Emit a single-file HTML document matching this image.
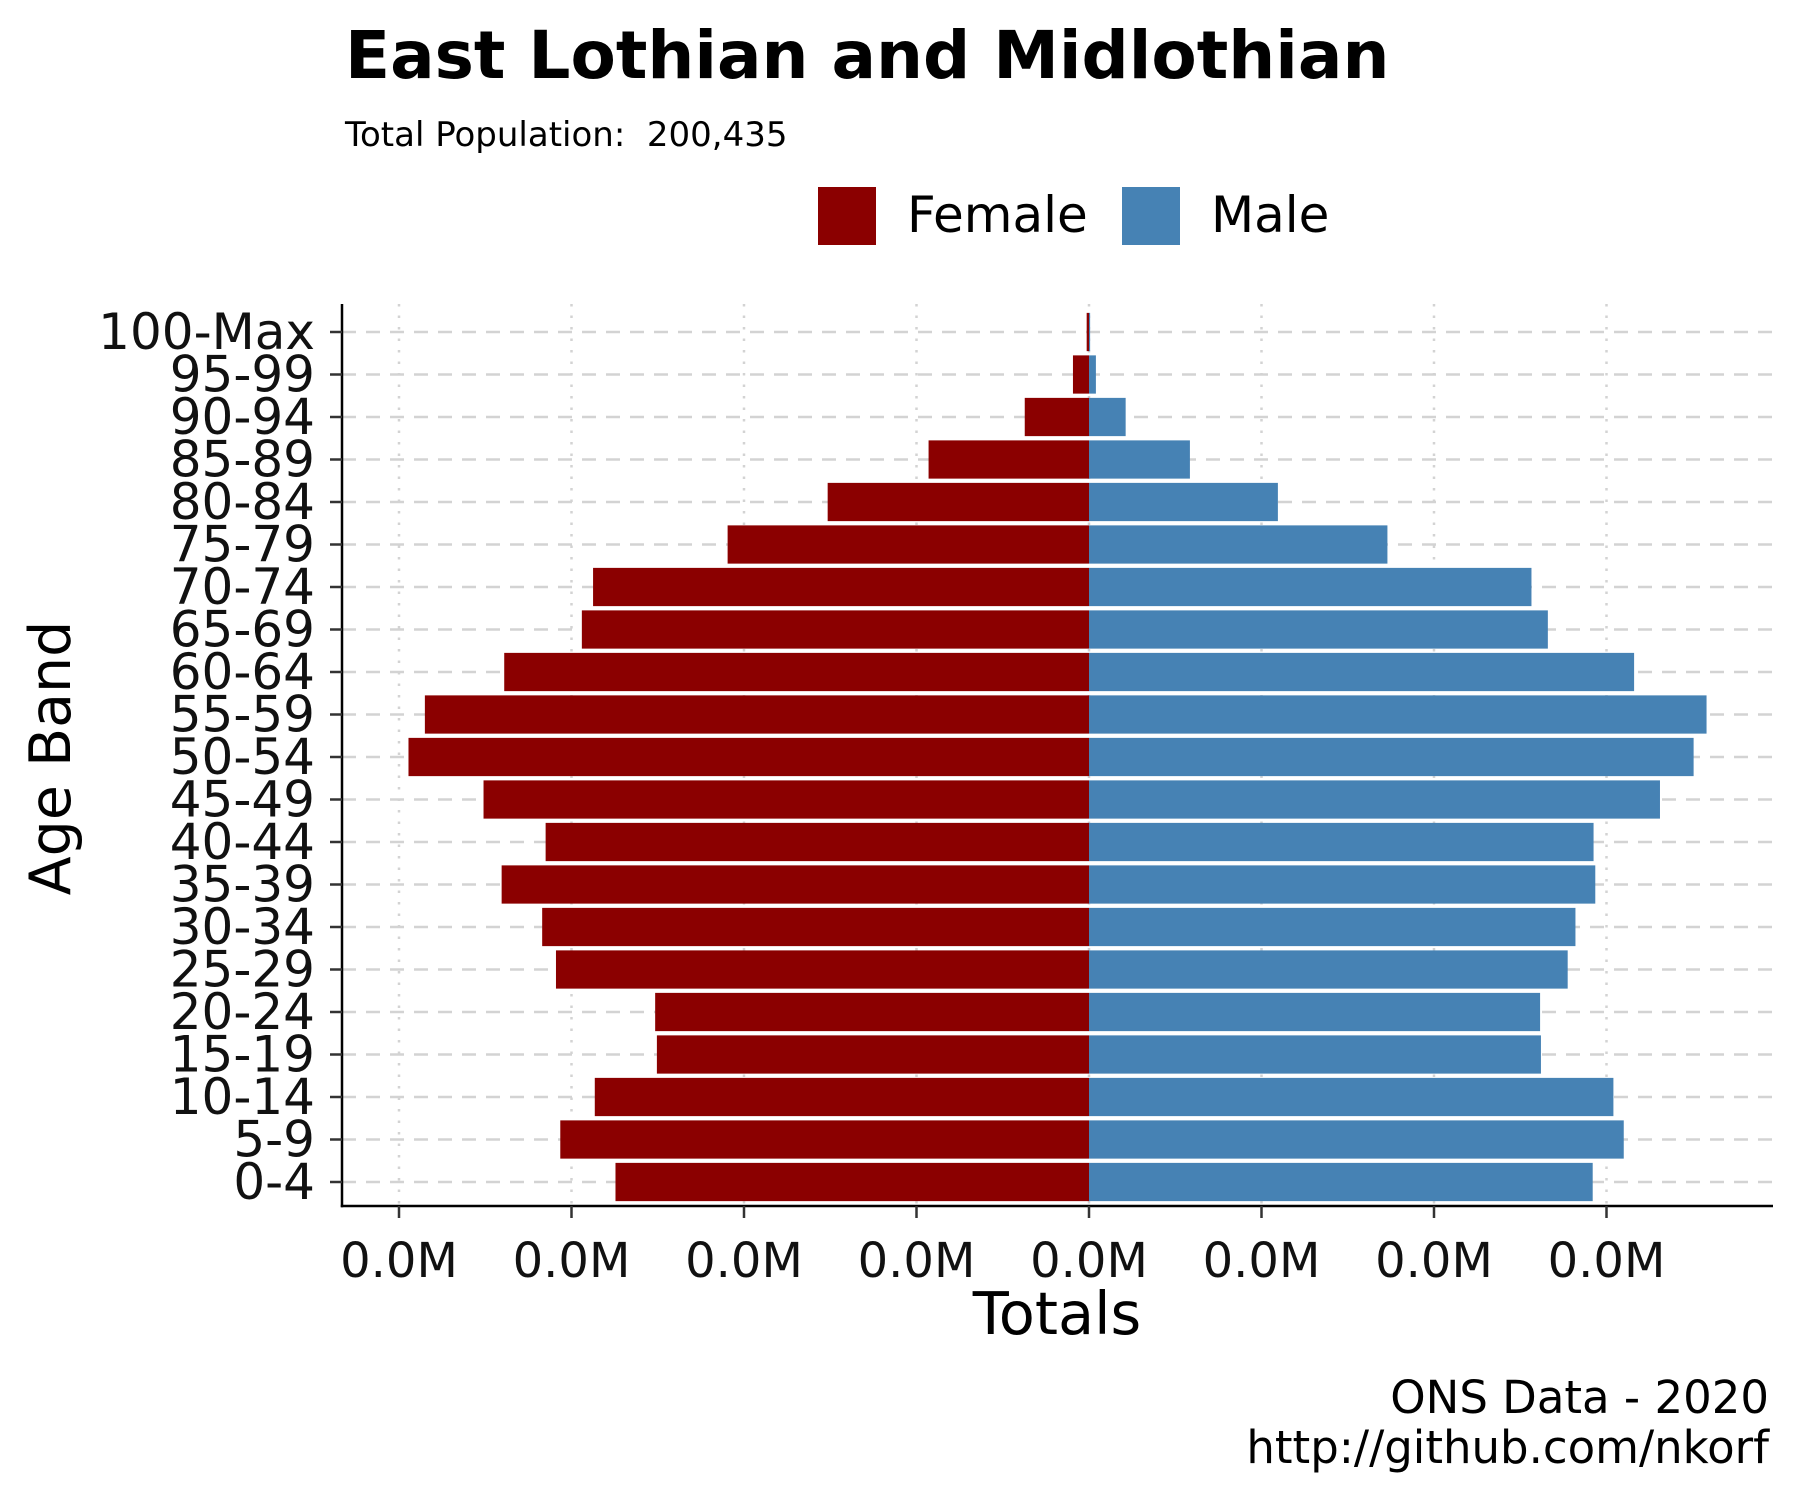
<!DOCTYPE html>
<html><head><meta charset="utf-8"><style>
html,body{margin:0;padding:0;background:#fff;}
svg text{font-family:"DejaVu Sans","Liberation Sans",sans-serif;white-space:pre;}
</style></head><body>
<svg id="chart" width="1800" height="1500" viewBox="0 0 1800 1500" xmlns="http://www.w3.org/2000/svg">
<rect x="0" y="0" width="1800" height="1500" fill="#fff"/>
<text x="345" y="78" font-size="66" font-weight="bold">East Lothian and Midlothian</text>
<text x="345" y="146" font-size="34" xml:space="preserve">Total Population:  200,435</text>
<g>
<rect x="818" y="187" width="58" height="58" fill="#8b0000"/>
<text x="907" y="232" font-size="50">Female</text>
<rect x="1122" y="187" width="58" height="58" fill="#4682b4"/>
<text x="1211" y="232" font-size="50">Male</text>
</g>
<g id="grid"></g>
<g id="bars"></g>
<g id="axes"></g>
<text x="1057" y="1334" font-size="59" text-anchor="middle">Totals</text>
<text x="0" y="0" font-size="57" text-anchor="middle" transform="translate(70,758) rotate(-90)">Age Band</text>
<text x="1769" y="1413" font-size="45" text-anchor="end">ONS Data - 2020</text>
<text x="1769" y="1463" font-size="45" text-anchor="end">http://github.com/nkorf</text>
</svg>
<script>
const categories = ["0-4","5-9","10-14","15-19","20-24","25-29","30-34","35-39","40-44","45-49","50-54","55-59","60-64","65-69","70-74","75-79","80-84","85-89","90-94","95-99","100-Max"];
const female = [5490,6130,5730,5010,5030,6180,6340,6810,6300,7020,7890,7700,6780,5880,5750,4190,3030,1860,745,186,27];
const male = [5840,6200,6080,5240,5230,5550,5640,5870,5850,6620,7010,7160,6320,5320,5130,3460,2190,1170,425,80,13];
const xTicks = [-8000,-6000,-4000,-2000,0,2000,4000,6000];
const xTickLabels = ["0.0M","0.0M","0.0M","0.0M","0.0M","0.0M","0.0M","0.0M"];

const NS = "http://www.w3.org/2000/svg";
const plotLeft = 342, plotRight = 1773, plotTop = 304, plotBottom = 1206;
const zeroX = 1089, pxPerUnit = 172.5 / 2000;
const y0 = 1182, step = 42.5;
function xScale(v){ return zeroX + v * pxPerUnit; }
function yScale(i){ return y0 - i * step; }
function mk(tag, attrs, parent){ const e = document.createElementNS(NS, tag); for (const k in attrs) e.setAttribute(k, attrs[k]); parent.appendChild(e); return e; }

const grid = document.getElementById('grid');
const bars = document.getElementById('bars');
const axes = document.getElementById('axes');

xTicks.forEach((t) => {
  const l = mk('line', {x1: xScale(t), x2: xScale(t), y1: plotTop, y2: plotBottom, stroke: '#d3d3d3', 'stroke-width': 2.5, 'stroke-dasharray': '2.5 9'}, grid);
  
  
});
categories.forEach((c, i) => {
  const l = mk('line', {x1: plotLeft, x2: plotRight, y1: yScale(i), y2: yScale(i), stroke: '#d3d3d3', 'stroke-width': 2.5, 'stroke-dasharray': '14 10'}, grid);
  
  
});

const bh = step * 0.9;
categories.forEach((c, i) => {
  const fx = xScale(-female[i]);
  const f = mk('rect', {x: fx, y: yScale(i) - bh/2, width: zeroX - fx, height: bh, fill: '#8b0000'}, bars);
  
  
  const m = mk('rect', {x: zeroX, y: yScale(i) - bh/2, width: xScale(male[i]) - zeroX, height: bh, fill: '#4682b4'}, bars);
  
  
});

const ya = mk('line', {x1: plotLeft, x2: plotLeft, y1: plotTop, y2: plotBottom + 1.25, stroke: '#000', 'stroke-width': 2.5}, axes);


const xa = mk('line', {x1: plotLeft - 1.25, x2: plotRight, y1: plotBottom, y2: plotBottom, stroke: '#000', 'stroke-width': 2.5}, axes);



categories.forEach((c, i) => {
  const t = mk('line', {x1: plotLeft - 12, x2: plotLeft, y1: yScale(i), y2: yScale(i), stroke: '#333', 'stroke-width': 2.5}, axes);
  
  
  const lb = mk('text', {x: 315, y: yScale(i) + 17, 'font-size': 50, 'text-anchor': 'end', fill: '#111'}, axes);
  lb.textContent = c;
  
  
});
xTicks.forEach((v, i) => {
  const t = mk('line', {x1: xScale(v), x2: xScale(v), y1: plotBottom, y2: plotBottom + 12, stroke: '#333', 'stroke-width': 2.5}, axes);
  
  
  const lb = mk('text', {x: xScale(v), y: 1277, 'font-size': 48, 'text-anchor': 'middle', fill: '#111'}, axes);
  lb.textContent = xTickLabels[i];
  
  
});
</script>
</body></html>
